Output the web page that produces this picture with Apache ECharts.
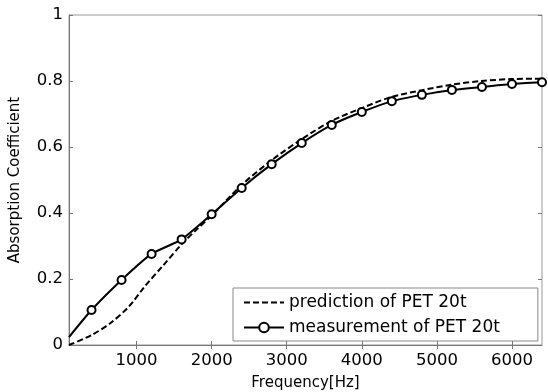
<!DOCTYPE html>
<html>
<head>
<meta charset="utf-8">
<script src="https://cdn.jsdelivr.net/npm/echarts@6/dist/echarts.min.js"></script>
<style>
  html, body { margin: 0; padding: 0; background: #fff; }
  #container { width: 548px; height: 392px; }
</style>
</head>
<body>
<div id="container"></div>
<script>
var dom = document.getElementById("container");
var chart = echarts.init(dom);

// prediction curve (dashed)
const predFreq = [100, 400, 650, 900, 1100, 1350, 1600, 1800, 2000, 2400, 2800, 3200, 3600, 4000, 4400, 4800, 5200, 5600, 6000, 6400];
const predValue = [0, 0.03, 0.066, 0.117, 0.175, 0.24, 0.305, 0.35, 0.392, 0.485, 0.56, 0.624, 0.679, 0.718, 0.752, 0.772, 0.789, 0.8, 0.806, 0.807];

// measurement (solid with circles)
const measFreq = [100, 400, 800, 1200, 1600, 2000, 2400, 2800, 3200, 3600, 4000, 4400, 4800, 5200, 5600, 6000, 6400];
const measValue = [0.024, 0.106, 0.197, 0.276, 0.32, 0.396, 0.476, 0.548, 0.612, 0.667, 0.706, 0.739, 0.758, 0.773, 0.782, 0.791, 0.796];

const xTicks = [1000, 2000, 3000, 4000, 5000, 6000];

const font = "DejaVu Sans";
const axisGray = "#777";

var predData = predFreq.map(function (f, i) { return [f, predValue[i]]; });
var measData = measFreq.map(function (f, i) {
    var item = { value: [f, measValue[i]] };
    if (i === 0) item.symbol = "none";
    return item;
});

var option = {
    animation: false,
    grid: {
        left: 69,
        right: 6,
        top: 15,
        bottom: 47,
        outerBoundsMode: "none",
        show: true,
        borderColor: "#999",
        borderWidth: 1,
    },
    xAxis: [
        {
            type: "value",
            min: 100,
            max: 6400,
            name: "Frequency[Hz]",
            nameLocation: "middle",
            nameGap: 31,
            nameTextStyle: { fontFamily: font, fontSize: 15, color: "#000" },
            axisLine: { show: true, lineStyle: { color: axisGray } },
            axisTick: { show: true, inside: true, length: 4, customValues: xTicks, lineStyle: { color: axisGray } },
            axisLabel: {
                customValues: xTicks,
                fontFamily: font,
                fontSize: 16.5,
                color: "#000",
                margin: 7,
                formatter: function (v) { return String(v); },
            },
            splitLine: { show: false },
        },
        {
            type: "value",
            position: "top",
            min: 100,
            max: 6400,
            axisLine: { show: false },
            axisTick: { show: true, inside: true, length: 4, customValues: xTicks, lineStyle: { color: axisGray } },
            axisLabel: { show: false },
            splitLine: { show: false },
        },
    ],
    yAxis: [
        {
            type: "value",
            min: 0,
            max: 1,
            interval: 0.2,
            name: "Absorption Coefficient",
            nameLocation: "middle",
            nameGap: 46,
            nameTextStyle: { fontFamily: font, fontSize: 15, color: "#000" },
            axisLine: { show: true, lineStyle: { color: axisGray } },
            axisTick: { show: true, inside: true, length: 4, lineStyle: { color: axisGray } },
            axisLabel: { fontFamily: font, fontSize: 16.5, color: "#000", margin: 6 },
            splitLine: { show: false },
        },
        {
            type: "value",
            position: "right",
            min: 0,
            max: 1,
            interval: 0.2,
            axisLine: { show: false },
            axisTick: { show: true, inside: true, length: 4, lineStyle: { color: axisGray } },
            axisLabel: { show: false },
            splitLine: { show: false },
        },
    ],
    legend: {
        left: 233,
        top: 288,
        orient: "vertical",
        backgroundColor: "#fff",
        borderColor: "#888",
        borderWidth: 1,
        borderRadius: 0,
        padding: [6, 38, 5, 10],
        itemGap: 8,
        itemWidth: 40,
        itemHeight: 12,
        textStyle: { fontFamily: font, fontSize: 17, color: "#000" },
        data: [
            { name: "prediction of PET 20t", itemStyle: { opacity: 0 } },
            { name: "measurement of PET 20t" },
        ],
    },
    series: [
        {
            name: "prediction of PET 20t",
            type: "line",
            data: predData,
            smooth: 0.3,
            symbol: "none",
            lineStyle: { color: "#000", width: 2, type: [6, 3] },
            itemStyle: { color: "#000" },
            z: 3,
        },
        {
            name: "measurement of PET 20t",
            type: "line",
            data: measData,
            smooth: 0.2,
            symbol: "circle",
            symbolSize: 8,
            lineStyle: { color: "#000", width: 2 },
            itemStyle: { color: "#fff", borderColor: "#000", borderWidth: 2 },
            z: 4,
        },
    ],
};

chart.setOption(option);
</script>
</body>
</html>
